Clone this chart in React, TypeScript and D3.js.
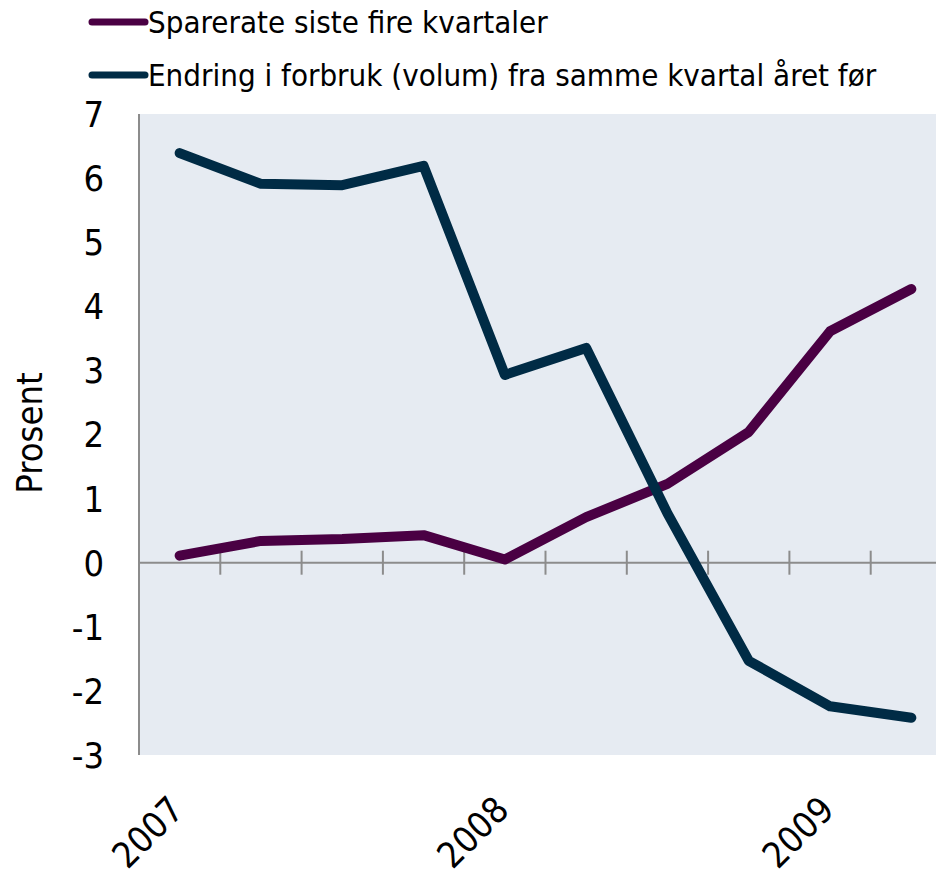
import React from "react";
import * as d3 from "d3";

const quarters = ["2007Q1","2007Q2","2007Q3","2007Q4","2008Q1","2008Q2","2008Q3","2008Q4","2009Q1","2009Q2"];
const sparerate = [0.11, 0.34, 0.37, 0.43, 0.05, 0.71, 1.23, 2.04, 3.61, 4.27];
const forbruk = [6.39, 5.91, 5.89, 6.19, 2.93, 3.35, 0.77, -1.53, -2.24, -2.42];
const yTicks = [7, 6, 5, 4, 3, 2, 1, 0, -1, -2, -3];
const yearLabels = [{ q: "2007Q1", label: "2007" }, { q: "2008Q1", label: "2008" }, { q: "2009Q1", label: "2009" }];
const seriesNames = ["Sparerate siste fire kvartaler", "Endring i forbruk (volum) fra samme kvartal året før"];
const colors = ["#4a0043", "#002b45"];

const W = 936, H = 876;
const FONT = "'DejaVu Sans Condensed', Tahoma, 'DejaVu Sans', sans-serif";

export default function App() {
  const left = 139, right = 952, top = 114, bottom = 755;
  const x = d3.scaleBand().domain(quarters).range([left, right]);
  const y = d3.scaleLinear().domain([-3, 7]).range([bottom, top]);
  const cx = (q: string) => (x(q) as number) + x.bandwidth() / 2;
  const line = d3.line<number>().x((_, i) => cx(quarters[i])).y((d) => y(d));
  const boundaries = quarters.slice(1).map((q) => x(q) as number);

  return (
    <svg width={W} height={H} style={{ position: "absolute", left: 0, top: 0 }} fontFamily={FONT}>
      <rect x={left} y={top} width={W - left} height={bottom - top} fill="#e6ebf2" />
      <line x1={left} x2={left} y1={top} y2={bottom} stroke="#8c8c8c" strokeWidth={2} />
      <line x1={left} x2={W} y1={y(0)} y2={y(0)} stroke="#8c8c8c" strokeWidth={2} />
      {boundaries.map((b, i) => (
        <line key={i} x1={b} x2={b} y1={y(0) - 12} y2={y(0) + 12} stroke="#8c8c8c" strokeWidth={2} />
      ))}
      {yTicks.map((t) => (
        <text key={t} x={104} y={y(t)} dy="0.36em" textAnchor="end" fontSize={36} fill="#000">{t}</text>
      ))}
      <text transform={`translate(42,${433}) rotate(-90)`} textAnchor="middle" fontSize={36} fill="#000">Prosent</text>
      {yearLabels.map((d) => (
        <text key={d.label} transform={`translate(${cx(d.q) + 6},${812}) rotate(-45)`} textAnchor="end" fontSize={36} fill="#000">{d.label}</text>
      ))}
      {[sparerate, forbruk].map((s, i) => (
        <path key={i} d={line(s) as string} fill="none" stroke={colors[i]} strokeWidth={10} strokeLinecap="round" strokeLinejoin="round" />
      ))}
      {seriesNames.map((n, i) => (
        <g key={n}>
          <line x1={92} x2={145} y1={22 + i * 53} y2={22 + i * 53} stroke={colors[i]} strokeWidth={7} strokeLinecap="round" />
          <text x={148} y={22 + i * 53} dy="0.36em" fontSize={31} fill="#000">{n}</text>
        </g>
      ))}
    </svg>
  );
}
